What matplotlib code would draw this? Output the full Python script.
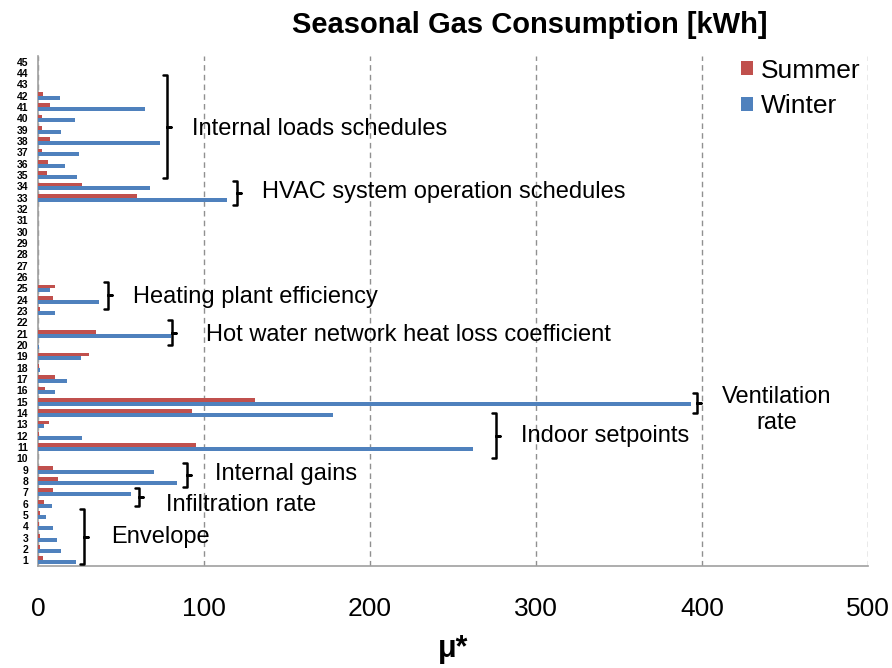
import matplotlib
matplotlib.use("Agg")
import matplotlib.pyplot as plt
import numpy as np

plt.rcParams['font.family'] = ['Liberation Sans', 'DejaVu Sans']

rows = list(range(1, 46))
summer = [2.8, 1.4, 1.4, 0.6, 1.4, 3.4, 8.8, 12, 8.8, 0,
          95.4, 0.6, 6.8, 92.8, 130.7, 4.2, 10, 0.5, 31, 0.2,
          35, 0, 1.2, 8.8, 10, 0, 0, 0, 0, 0,
          0, 0, 59.4, 26.7, 5.4, 6.2, 2.2, 7.4, 2.2, 2.2,
          7.4, 2.8, 0, 0, 0]
winter = [22.7, 14, 11.4, 8.8, 4.8, 8.2, 56, 84, 70, 0,
          262, 26.7, 3.4, 178, 393.5, 10, 17.5, 1.2, 26, 0.6,
          80, 0, 10, 36.7, 7.4, 0, 0, 0, 0, 0,
          0, 0, 114, 67.5, 23.5, 16, 24.7, 73.5, 14, 22,
          64.6, 13.4, 0, 0, 0]
x_ticks = [0, 100, 200, 300, 400, 500]

# group annotations: label, brace x, brace bottom row, brace top row, text x, text y
groups = [
    ("Internal loads schedules", 78, 34.7, 43.8, 93, 39.05),
    ("HVAC system operation schedules", 120, 32.4, 34.5, 135, 33.5),
    ("Heating plant efficiency", 42, 23.2, 25.6, 57, 24.25),
    ("Hot water network heat loss coefficient", 81, 20.0, 22.2, 101, 20.9),
    ("Indoor setpoints", 276, 10.0, 14.0, 291, 12.0),
    ("Internal gains", 89.5, 7.5, 9.6, 106.5, 8.6),
    ("Infiltration rate", 61, 5.8, 7.4, 77, 5.9),
    ("Envelope", 28, 0.7, 5.5, 44, 3.1),
]
vent = ("Ventilation\nrate", 397, 14.0, 15.75, 445, 14.3)

fig = plt.figure(figsize=(8.92, 6.68), dpi=100)
ax = fig.add_axes([0.0426, 0.1527, 0.9304, 0.7633])

y = np.array(rows, dtype=float)
h = 0.34
ax.barh(y + h / 2, summer, height=h, color="#C0504D", label="Summer", zorder=3)
ax.barh(y - h / 2, winter, height=h, color="#4F81BD", label="Winter", zorder=3)

ax.set_xlim(0, 500)
ax.set_ylim(0.5, 45.5)
ax.set_xticks(x_ticks)
ax.set_xticklabels([str(v) for v in x_ticks], fontsize=19)
ax.set_yticks(rows)
ax.set_yticklabels([str(r) for r in rows], fontsize=7.5, fontweight="bold")
ax.tick_params(axis="both", length=0)
ax.tick_params(axis="x", pad=22)
ax.tick_params(axis="y", pad=7)

ax.grid(axis="x", color="#909090", linestyle=(0, (4, 3)), linewidth=1.0, zorder=0)
for s in ["top", "right"]:
    ax.spines[s].set_visible(False)
for s in ["left", "bottom"]:
    ax.spines[s].set_color("#A0A0A0")
    ax.spines[s].set_linewidth(1.2)

fig.text(0.5935, 0.963, "Seasonal Gas Consumption [kWh]", fontsize=21,
         fontweight="bold", ha="center", va="center")
ax.set_xlabel("μ*", fontsize=22, fontweight="bold", labelpad=10)


def brace(x, y0, y1, w=2.4):
    ym = (y0 + y1) / 2
    xs = [x - w, x, x, x + w, x, x, x - w]
    ys = [y1, y1, ym, ym, ym, y0, y0]
    ax.plot(xs, ys, color="black", linewidth=1.8, solid_joinstyle="round",
            solid_capstyle="round", zorder=4, clip_on=False)


for label, bx, b0, b1, tx, ty in groups:
    brace(bx, b0, b1)
    ax.text(tx, ty, label, fontsize=17, va="center", ha="left", zorder=5)

label, bx, b0, b1, tx, ty = vent
brace(bx, b0, b1)
ax.text(tx, ty, label, fontsize=17, va="center", ha="center", linespacing=1.25, zorder=5)

leg = ax.legend(loc="upper right", bbox_to_anchor=(1.004, 1.016), frameon=False,
                fontsize=19, handlelength=0.45, handleheight=0.45, handletextpad=0.3,
                labelspacing=0.45, borderaxespad=0.0)

fig.savefig("out.png", dpi=100)
